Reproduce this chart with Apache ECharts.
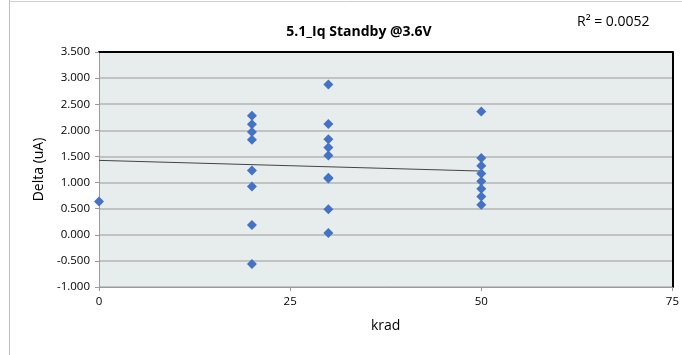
<!DOCTYPE html>
<html>
<head>
<meta charset="utf-8">
<script src="https://cdn.jsdelivr.net/npm/echarts@6/dist/echarts.min.js"></script>
<style>
  html, body { margin: 0; padding: 0; background: #ffffff; }
  #chart { width: 682px; height: 355px; }
</style>
</head>
<body>
<div id="chart"></div>
<script>
// Measured delta of standby current at each dose level
const dose0 = [0.635];
const dose20 = [2.277, 2.115, 1.969, 1.821, 1.231, 0.923, 0.187, -0.558];
const dose30 = [2.879, 2.123, 1.827, 1.673, 1.519, 1.092, 1.077, 0.488, 0.033];
const dose50 = [2.360, 1.469, 1.321, 1.173, 1.027, 0.879, 0.731, 0.577];
const doseLevels = [0, 20, 30, 50];

// Linear trendline end points (krad, uA)
const trendX = [0, 50];
const trendY = [1.425, 1.220];

const xTicks = [0, 25, 50, 75];
const yMin = -1.0, yMax = 3.5, yStep = 0.5;

const groups = [dose0, dose20, dose30, dose50];
const points = [];
groups.forEach((vals, i) => vals.forEach(v => points.push([doseLevels[i], v])));
const trend = trendX.map((x, i) => [x, trendY[i]]);

const chart = echarts.init(document.getElementById('chart'), null, { renderer: 'canvas' });
const font = 'Open Sans, Liberation Sans, sans-serif';

chart.setOption({
  animation: false,
  backgroundColor: '#ffffff',
  title: [
    {
      text: '5.1_Iq Standby @3.6V',
      left: 354, top: 20, textAlign: 'center',
      textStyle: { fontFamily: font, fontSize: 14, fontWeight: 'bold', color: '#000' }
    },
    {
      text: 'R² = 0.0052',
      left: 572, top: 10,
      textStyle: { fontFamily: font, fontSize: 14, fontWeight: 'normal', color: '#000' }
    }
  ],
  graphic: [
    { type: 'line', shape: { x1: 9.5, y1: 0, x2: 9.5, y2: 355 }, style: { stroke: '#bdbdbd', lineWidth: 1 } },
    { type: 'line', shape: { x1: 9, y1: 1.5, x2: 682, y2: 1.5 }, style: { stroke: '#d0d0d0', lineWidth: 1 } }
  ],
  grid: {
    left: 99, right: 9, top: 52, bottom: 68,
    show: true, backgroundColor: '#e7ecec', borderWidth: 0
  },
  xAxis: [
    {
      type: 'value', min: 0, max: 75, interval: 25,
      name: 'krad', nameLocation: 'middle', nameGap: 32,
      nameTextStyle: { fontFamily: font, fontSize: 14, color: '#000' },
      axisLine: { show: true, onZero: false, lineStyle: { color: '#9a9a9a', width: 1 } },
      axisTick: { show: true, length: 4, lineStyle: { color: '#9a9a9a' } },
      axisLabel: {
        fontFamily: font, fontSize: 11.5, color: '#000', margin: 9,
        formatter: v => xTicks.includes(v) ? String(v) : ''
      },
      splitLine: { show: false }
    },
    {
      type: 'value', position: 'top', min: 0, max: 75, interval: 25,
      axisLine: { show: true, onZero: false, lineStyle: { color: '#000', width: 2 } },
      axisTick: { show: false }, axisLabel: { show: false }, splitLine: { show: false }
    }
  ],
  yAxis: [
    {
      type: 'value', min: yMin, max: yMax, interval: yStep,
      name: 'Delta (uA)', nameLocation: 'middle', nameGap: 50, nameRotate: 90,
      nameTextStyle: { fontFamily: font, fontSize: 14, color: '#000' },
      axisLine: { show: true, onZero: false, lineStyle: { color: '#9a9a9a', width: 1 } },
      axisTick: { show: true, length: 4, lineStyle: { color: '#9a9a9a' } },
      axisLabel: {
        fontFamily: font, fontSize: 11.5, color: '#000', margin: 9,
        formatter: v => v.toFixed(3)
      },
      splitLine: { show: true, lineStyle: { color: '#b4b4b4', width: 1.5 } }
    },
    {
      type: 'value', position: 'right', min: yMin, max: yMax, interval: yStep,
      axisLine: { show: true, onZero: false, lineStyle: { color: '#000', width: 2 } },
      axisTick: { show: false }, axisLabel: { show: false }, splitLine: { show: false }
    }
  ],
  series: [
    {
      type: 'line', data: trend, showSymbol: false, symbol: 'none',
      lineStyle: { color: '#444444', width: 1 }, z: 3
    },
    {
      type: 'scatter', data: points, symbol: 'diamond', symbolSize: 10,
      itemStyle: { color: '#4472c4', opacity: 1 }, z: 4
    }
  ]
});
</script>
</body>
</html>
